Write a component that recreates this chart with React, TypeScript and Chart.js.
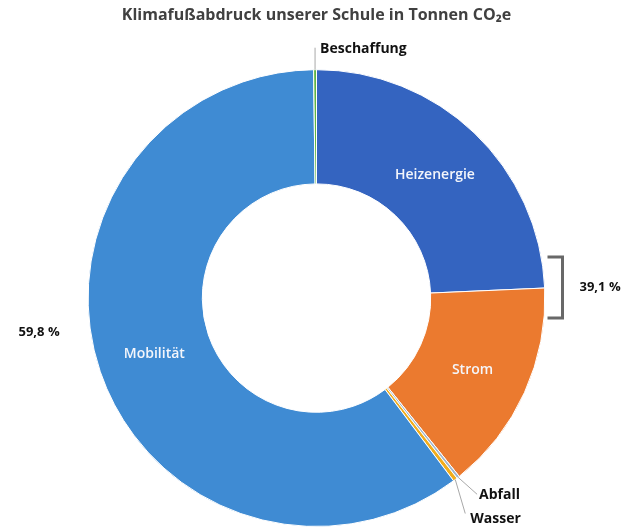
import React, { useEffect, useRef } from "react";
import { Chart, registerables } from "chart.js";

Chart.register(...registerables);

const categories = ["Heizenergie", "Strom", "Abfall", "Wasser", "Mobilität", "Beschaffung"];
const values = [24.2, 14.9, 0.2, 0.3, 59.8, 0.2];
const colors = ["#3464c0", "#eb7a2f", "#a3b6cc", "#f2ad1c", "#3f8bd3", "#5fb443"];
const insideLabelIdx = [0, 1, 4];
const titleText = "Klimafußabdruck unserer Schule in Tonnen CO₂e";
const groupLabelRight = "39,1 %";
const groupLabelLeft = "59,8 %";

const FONT = "'Open Sans', Lato, sans-serif";

const labelPlugin = {
  id: "customLabels",
  afterDatasetsDraw(chart: any) {
    const ctx = chart.ctx;
    const meta = chart.getDatasetMeta(0);
    const arcs = meta.data;
    if (!arcs.length) return;
    const a0 = arcs[0] as any;
    const cx = a0.x;
    const cy = a0.y;
    const R = a0.outerRadius;
    ctx.save();
    // inside labels
    ctx.fillStyle = "#f4f6fb";
    ctx.font = `600 14px ${FONT}`;
    ctx.textAlign = "center";
    ctx.textBaseline = "middle";
    insideLabelIdx.forEach((i) => {
      const p = arcs[i].getCenterPoint();
      ctx.fillText(categories[i], p.x, p.y + 1);
    });

    const outerPt = (i: number) => {
      const a: any = arcs[i];
      const m = (a.startAngle + a.endAngle) / 2;
      return { x: cx + Math.cos(m) * R, y: cy + Math.sin(m) * R };
    };

    ctx.strokeStyle = "#a8a8a8";
    ctx.lineWidth = 1;
    ctx.fillStyle = "#111111";
    ctx.font = `bold 14px ${FONT}`;
    ctx.textAlign = "left";

    // Beschaffung
    const pb = outerPt(5);
    ctx.beginPath();
    ctx.moveTo(pb.x, pb.y);
    ctx.lineTo(pb.x, pb.y - 22);
    ctx.stroke();
    ctx.fillText(categories[5], pb.x + 5, pb.y - 21);

    // Abfall
    const pa = outerPt(2);
    ctx.beginPath();
    ctx.moveTo(pa.x, pa.y);
    ctx.lineTo(pa.x + 19, pa.y + 17);
    ctx.stroke();
    ctx.fillText(categories[2], pa.x + 21, pa.y + 18);

    // Wasser
    const pw = outerPt(3);
    ctx.beginPath();
    ctx.moveTo(pw.x, pw.y);
    ctx.lineTo(pw.x + 10, pw.y + 34);
    ctx.stroke();
    ctx.fillText(categories[3], pw.x + 15, pw.y + 39);

    // bracket
    ctx.strokeStyle = "#686868";
    ctx.lineWidth = 3;
    ctx.beginPath();
    ctx.moveTo(cx + 231, cy - 41);
    ctx.lineTo(cx + 246, cy - 41);
    ctx.lineTo(cx + 246, cy + 20);
    ctx.lineTo(cx + 231, cy + 20);
    ctx.stroke();

    ctx.font = `bold 13px ${FONT}`;
    ctx.fillText(groupLabelRight, cx + 263, cy - 11);
    ctx.fillText(groupLabelLeft, cx - 298, cy + 34);
    ctx.restore();
  },
};

export default function App() {
  const ref = useRef<HTMLCanvasElement | null>(null);
  useEffect(() => {
    if (!ref.current) return;
    const chart = new Chart(ref.current, {
      type: "doughnut",
      data: {
        labels: categories,
        datasets: [
          {
            data: values,
            backgroundColor: colors,
            borderColor: "#ffffff",
            borderWidth: 1,
          },
        ],
      },
      options: {
        responsive: false,
        animation: false,
        cutout: "50%",
        layout: { padding: { top: 0, bottom: 1, left: 0, right: 0 } },
        plugins: {
          legend: { display: false },
          tooltip: { enabled: false },
          title: {
            display: true,
            text: titleText,
            color: "#404040",
            font: { family: FONT, size: 16, weight: "bold", lineHeight: 1.2 },
            padding: { top: 6, bottom: 44 },
          },
        },
      },
      plugins: [labelPlugin],
    });
    return () => chart.destroy();
  }, []);
  return (
    <div style={{ position: "fixed", left: 0, top: 0, width: 633, height: 528, background: "#ffffff" }}>
      <canvas ref={ref} width={633} height={528} style={{ display: "block" }} />
    </div>
  );
}
